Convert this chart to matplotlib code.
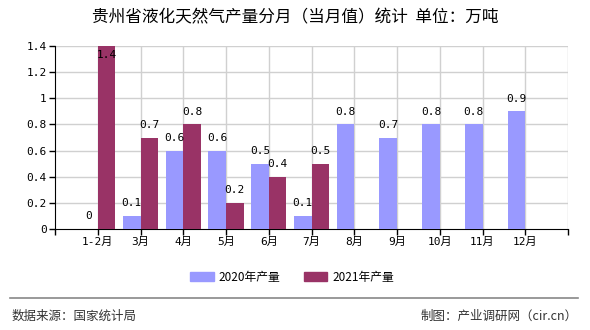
import numpy as np
import matplotlib
matplotlib.use("Agg")
import matplotlib.pyplot as plt
from matplotlib.lines import Line2D
from matplotlib.patches import Patch

plt.rcParams['font.family'] = ['DejaVu Sans Mono', 'Noto Sans CJK SC']

# data
months = ['1-2月', '3月', '4月', '5月', '6月', '7月', '8月', '9月', '10月', '11月', '12月']
prod_2020 = [0, 0.1, 0.6, 0.6, 0.5, 0.1, 0.8, 0.7, 0.8, 0.8, 0.9]
prod_2021 = [1.4, 0.7, 0.8, 0.2, 0.4, 0.5]
yticks = [0, 0.2, 0.4, 0.6, 0.8, 1, 1.2, 1.4]
ytick_labels = ['0', '0.2', '0.4', '0.6', '0.8', '1', '1.2', '1.4']

c2020 = '#9999ff'
c2021 = '#993366'
cjk = ['Noto Sans CJK SC', 'DejaVu Sans']

fig = plt.figure(figsize=(5.9, 3.3), dpi=100)
ax = fig.add_axes([55 / 590, 1 - 229 / 330, (568 - 55) / 590, (229 - 46) / 330])

x = np.arange(len(months))
w = 0.41
ax.bar(x[:len(prod_2020)] - w / 2, prod_2020, w, color=c2020, zorder=3)
ax.bar(x[:len(prod_2021)] + w / 2, prod_2021, w, color=c2021, zorder=3)

ymax = 1.4
ax.set_xlim(-1, len(months))
ax.set_ylim(0, ymax)


def label(xs, vals):
    for xi, v in zip(xs, vals):
        if v + 0.1 > ymax:
            ax.text(xi, v - 0.03, f'{v:g}', ha='center', va='top', fontsize=8, zorder=4)
        else:
            ax.text(xi, v + 0.06, f'{v:g}', ha='center', va='bottom', fontsize=8, zorder=4)


label(x[:len(prod_2020)] - w / 2, prod_2020)
label(x[:len(prod_2021)] + w / 2, prod_2021)

# grid
for yv in yticks[1:]:
    ax.axhline(yv, color='#d0d0d0', lw=1, zorder=1)
for xv in range(0, len(months) + 1):
    ax.axvline(xv, color='#d0d0d0', lw=1, zorder=1)

ax.set_yticks(yticks)
ax.set_yticklabels(ytick_labels, fontsize=8)
ax.set_xticks(np.arange(-1, len(months) + 1))
ax.set_xticklabels([''] + months + [''], fontsize=8)
ax.tick_params(axis='both', length=4, width=1, color='black', pad=2)

for s in ['top', 'right']:
    ax.spines[s].set_visible(False)
ax.spines['left'].set_color('black')
ax.spines['bottom'].set_color('black')

fig.text(0.5, 1 - 18 / 330, '贵州省液化天然气产量分月（当月值）统计  单位：万吨',
         ha='center', va='center', fontsize=12, family=cjk)

handles = [Patch(color=c2020), Patch(color=c2021)]
fig.legend(handles, ['2020年产量', '2021年产量'], loc='center',
           bbox_to_anchor=(0.495, 1 - 277 / 330), ncol=2, frameon=False,
           prop={'family': cjk, 'size': 8.5}, handlelength=2.0, handleheight=0.8,
           columnspacing=2.0, handletextpad=0.4)

fig.add_artist(Line2D([10 / 590, 578 / 590], [1 - 298 / 330, 1 - 298 / 330],
                      color='#888888', lw=1.2))
fig.text(12 / 590, 1 - 316 / 330, '数据来源：国家统计局', ha='left', va='center',
         fontsize=9, family=cjk, color='#333333')
fig.text(578 / 590, 1 - 316 / 330, '制图：产业调研网（cir.cn）', ha='right', va='center',
         fontsize=9, family=cjk, color='#333333')

fig.savefig('out.png', dpi=100)
